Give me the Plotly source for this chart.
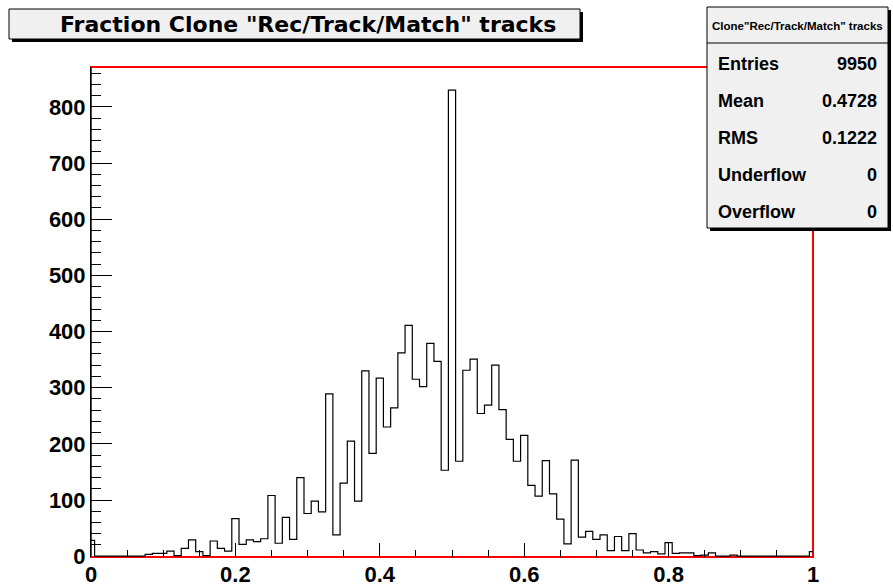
import numpy as np
import plotly.graph_objects as go

# Histogram: 101 bins of width 0.01 centred on 0.00, 0.01, ..., 1.00
bin_width = 0.01
bin_centers = np.round(np.arange(101) * bin_width, 2)
counts = [28, 0, 0, 0, 0, 0, 0, 0, 3, 5,
          5, 9, 1, 14, 29, 8, 1, 27, 14, 9,
          67, 21, 29, 26, 31, 108, 23, 69, 30, 140,
          76, 98, 79, 289, 38, 130, 205, 98, 330, 183,
          317, 230, 264, 362, 411, 315, 302, 379, 347, 153,
          830, 169, 331, 351, 254, 269, 340, 261, 208, 169,
          215, 126, 107, 170, 111, 66, 22, 171, 34, 44,
          30, 38, 10, 35, 10, 40, 11, 6, 8, 4,
          24, 5, 6, 6, 1, 2, 6, 0, 0, 2,
          0, 0, 0, 0, 0, 0, 0, 0, 0, 0,
          8]

x_tick_vals = [0, 0.2, 0.4, 0.6, 0.8, 1.0]
x_tick_text = ["0", "0.2", "0.4", "0.6", "0.8", "1"]
y_tick_vals = [0, 100, 200, 300, 400, 500, 600, 700, 800]

title_text = 'Fraction Clone "Rec/Track/Match" tracks'
stats_title = 'Clone"Rec/Track/Match" tracks'
stats_labels = ["Entries", "Mean", "RMS", "Underflow", "Overflow"]
stats_values = ["9950", "0.4728", "0.1222", "0", "0"]

# Canvas / frame geometry in pixels
W, H = 893, 586
L, R, T, B = 91, 813, 67, 557
PW, PH = R - L, B - T


def px(x):
    return (x - L) / PW


def py(y):
    return (B - y) / PH


# Step outline built from bin edges
left_edges = bin_centers - bin_width / 2
step_x = np.concatenate([[left_edges[0]], left_edges, [bin_centers[-1] + bin_width / 2] * 2])
step_y = np.concatenate([[0], counts, [counts[-1], 0]])

fig = go.Figure()
fig.add_trace(go.Scatter(
    x=step_x, y=step_y, mode="lines", line_shape="hv",
    line=dict(color="black", width=1.2), hoverinfo="skip", showlegend=False,
))

tick_font = dict(family="Liberation Sans", size=22, color="black", weight="bold")

fig.update_xaxes(
    range=[0, 1], showgrid=False, zeroline=False, showline=False, automargin=False,
    ticks="inside", ticklen=14, tickwidth=1, tickcolor="black",
    tickvals=x_tick_vals, ticktext=x_tick_text, tickfont=tick_font,
    ticklabelstandoff=2,
    minor=dict(dtick=0.05, ticks="inside", ticklen=7, tickcolor="black", showgrid=False),
)
fig.update_yaxes(
    range=[-1.5, 871], showgrid=False, zeroline=False, automargin=False,
    showline=True, linecolor="black", linewidth=1,
    ticks="inside", ticklen=21, tickwidth=1, tickcolor="black",
    tickvals=y_tick_vals, tickfont=tick_font,
    minor=dict(dtick=20, ticks="inside", ticklen=10, tickcolor="black", showgrid=False),
)

shapes = [
    # frame
    dict(type="rect", xref="paper", yref="paper", x0=0, x1=1, y0=0, y1=1,
         line=dict(color="#ff0000", width=2), layer="below"),
    # title box with shadow
    dict(type="rect", xref="paper", yref="paper", x0=px(12), x1=px(583), y0=py(42), y1=py(12),
         fillcolor="black", line=dict(width=0)),
    dict(type="rect", xref="paper", yref="paper", x0=px(9), x1=px(580), y0=py(39), y1=py(9),
         fillcolor="#f0f0f0", line=dict(color="black", width=1)),
    # stats box with shadow
    dict(type="rect", xref="paper", yref="paper", x0=px(710), x1=px(891), y0=py(231), y1=py(10),
         fillcolor="black", line=dict(width=0)),
    dict(type="rect", xref="paper", yref="paper", x0=px(707), x1=px(888), y0=py(228), y1=py(7),
         fillcolor="#f0f0f0", line=dict(color="black", width=1)),
    dict(type="line", xref="paper", yref="paper", x0=px(707), x1=px(888), y0=py(43), y1=py(43),
         line=dict(color="black", width=1)),
]

annotations = [
    dict(text=title_text, xref="paper", yref="paper", x=px(308), y=py(24.5),
         xanchor="center", yanchor="middle", showarrow=False,
         font=dict(family="DejaVu Sans", size=22, color="black", weight="bold")),
    dict(text=stats_title, xref="paper", yref="paper", x=px(797), y=py(26),
         xanchor="center", yanchor="middle", showarrow=False,
         font=dict(family="Liberation Sans", size=11.5, color="black", weight="bold")),
]
row_y = [64, 101.5, 138, 175, 211.5]
for lab, val, ry in zip(stats_labels, stats_values, row_y):
    annotations.append(dict(text=lab, xref="paper", yref="paper", x=px(716), y=py(ry),
                            xanchor="left", yanchor="middle", showarrow=False,
                            font=dict(family="Liberation Sans", size=18, color="black", weight="bold")))
    annotations.append(dict(text=val, xref="paper", yref="paper", x=px(879), y=py(ry),
                            xanchor="right", yanchor="middle", showarrow=False,
                            font=dict(family="Liberation Sans", size=18, color="black", weight="bold")))

fig.update_layout(
    width=W, height=H, autosize=False,
    margin=dict(l=L, r=W - R, t=T, b=H - B, pad=0),
    paper_bgcolor="white", plot_bgcolor="rgba(0,0,0,0)",
    shapes=shapes, annotations=annotations, showlegend=False,
)

fig.write_html("out.html")
